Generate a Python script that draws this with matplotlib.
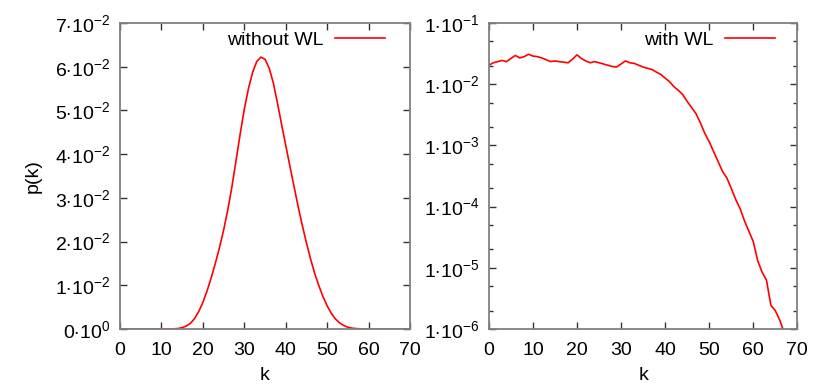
import numpy as np
import matplotlib
matplotlib.use("Agg")
import matplotlib.pyplot as plt
from matplotlib.ticker import FixedLocator, FuncFormatter, LogLocator

plt.rcParams['font.family'] = ['Liberation Sans', 'DejaVu Sans']
plt.rcParams['mathtext.fontset'] = 'custom'
plt.rcParams['mathtext.rm'] = 'Liberation Sans'
plt.rcParams['mathtext.it'] = 'Liberation Sans'

# p(k) without Wang-Landau, k = 0..70
k_plain = list(range(0, 71))
p_plain = [0, 0, 0, 0, 0, 0, 0, 0, 0, 0,
           0, 0, 0.00001, 0.00004, 0.00012, 0.0003, 0.0007, 0.0013, 0.0024, 0.0040,
           0.0061, 0.0087, 0.0117, 0.0150, 0.0186, 0.0226, 0.0272, 0.0325, 0.0385, 0.0446,
           0.0503, 0.0550, 0.0587, 0.0612, 0.0622, 0.0617, 0.0597, 0.0563, 0.0517, 0.0468,
           0.0420, 0.0373, 0.0326, 0.0280, 0.0237, 0.0197, 0.0160, 0.0127, 0.0099, 0.0074,
           0.0053, 0.0036, 0.0023, 0.0014, 0.0008, 0.0004, 0.0002, 0.0001, 0.00005, 0.00002,
           0.00001, 0, 0, 0, 0, 0, 0, 0, 0, 0, 0]

# p(k) with Wang-Landau, k = 0..67
k_wl = list(range(0, 68))
p_wl = [0.0204, 0.0224, 0.0234, 0.0245, 0.0234, 0.0263, 0.0295, 0.0269, 0.0282, 0.0309,
        0.0288, 0.0282, 0.0269, 0.0251, 0.0234, 0.0240, 0.0234, 0.0229, 0.0224, 0.0257,
        0.0302, 0.0263, 0.0240, 0.0224, 0.0234, 0.0224, 0.0214, 0.0204, 0.0195, 0.0191,
        0.0214, 0.0240, 0.0224, 0.0219, 0.0204, 0.0191, 0.0182, 0.0174, 0.0158, 0.0145,
        0.0126, 0.0110, 9.12e-3, 7.94e-3, 6.76e-3, 5.25e-3, 4.17e-3, 3.31e-3, 2.34e-3, 1.58e-3,
        1.15e-3, 7.94e-4, 5.50e-4, 3.80e-4, 2.95e-4, 2.00e-4, 1.32e-4, 9.33e-5, 5.89e-5, 3.98e-5,
        2.69e-5, 1.32e-5, 8.51e-6, 6.31e-6, 2.45e-6, 2.00e-6, 1.41e-6, 8.9e-7]

lin_ticks = [0, 0.01, 0.02, 0.03, 0.04, 0.05, 0.06, 0.07]
log_ticks = [1e-6, 1e-5, 1e-4, 1e-3, 1e-2, 1e-1]
x_ticks = [0, 10, 20, 30, 40, 50, 60, 70]

FS = 14
RED = '#ff0000'


def lin_fmt(v, pos):
    if v == 0:
        return r'$0{\cdot}10^{0}$'
    return r'$%d{\cdot}10^{-2}$' % round(v * 100)


def log_fmt(v, pos):
    return r'$1{\cdot}10^{%d}$' % round(np.log10(v))


def style(ax):
    for s in ax.spines.values():
        s.set_color('#808080')
        s.set_linewidth(1.3)
    ax.tick_params(which='both', direction='in', top=True, right=True,
                   labelsize=FS, color='#333333', width=1.0)
    ax.tick_params(which='major', length=5)
    ax.tick_params(axis='y', pad=7)
    ax.tick_params(axis='x', pad=9)
    ax.tick_params(which='minor', length=3)
    ax.set_xlim(0, 70)
    ax.xaxis.set_major_locator(FixedLocator(x_ticks))
    ax.set_xlabel('k', fontsize=FS, labelpad=6)


def key(ax, x_end):
    ax.legend(loc='upper right', bbox_to_anchor=(x_end, 0.972), frameon=False,
              markerfirst=False, fontsize=FS, handlelength=2.6, handletextpad=0.55,
              borderpad=0, borderaxespad=0)


fig = plt.figure(figsize=(8.3, 3.88), dpi=100)
ax1 = fig.add_axes([0.1446, 0.152, 0.3494, 0.7887])
ax2 = fig.add_axes([0.589, 0.152, 0.3716, 0.7887])

ax1.plot(k_plain, p_plain, color=RED, lw=1.2, label='without WL')
style(ax1)
ax1.set_ylim(0, 0.07)
ax1.yaxis.set_major_locator(FixedLocator(lin_ticks))
ax1.yaxis.set_major_formatter(FuncFormatter(lin_fmt))
ax1.set_ylabel('p(k)', fontsize=FS, labelpad=10)
key(ax1, 0.914)

ax2.plot(k_wl, p_wl, color=RED, lw=1.2, label='with WL')
ax2.set_yscale('log')
style(ax2)
ax2.set_ylim(1e-6, 1e-1)
ax2.yaxis.set_major_locator(FixedLocator(log_ticks))
ax2.yaxis.set_minor_locator(LogLocator(base=10, subs=[2, 5]))
ax2.yaxis.set_major_formatter(FuncFormatter(log_fmt))
ax2.yaxis.set_minor_formatter(FuncFormatter(lambda v, p: ''))
key(ax2, 0.928)

fig.savefig('out.png', dpi=100)
